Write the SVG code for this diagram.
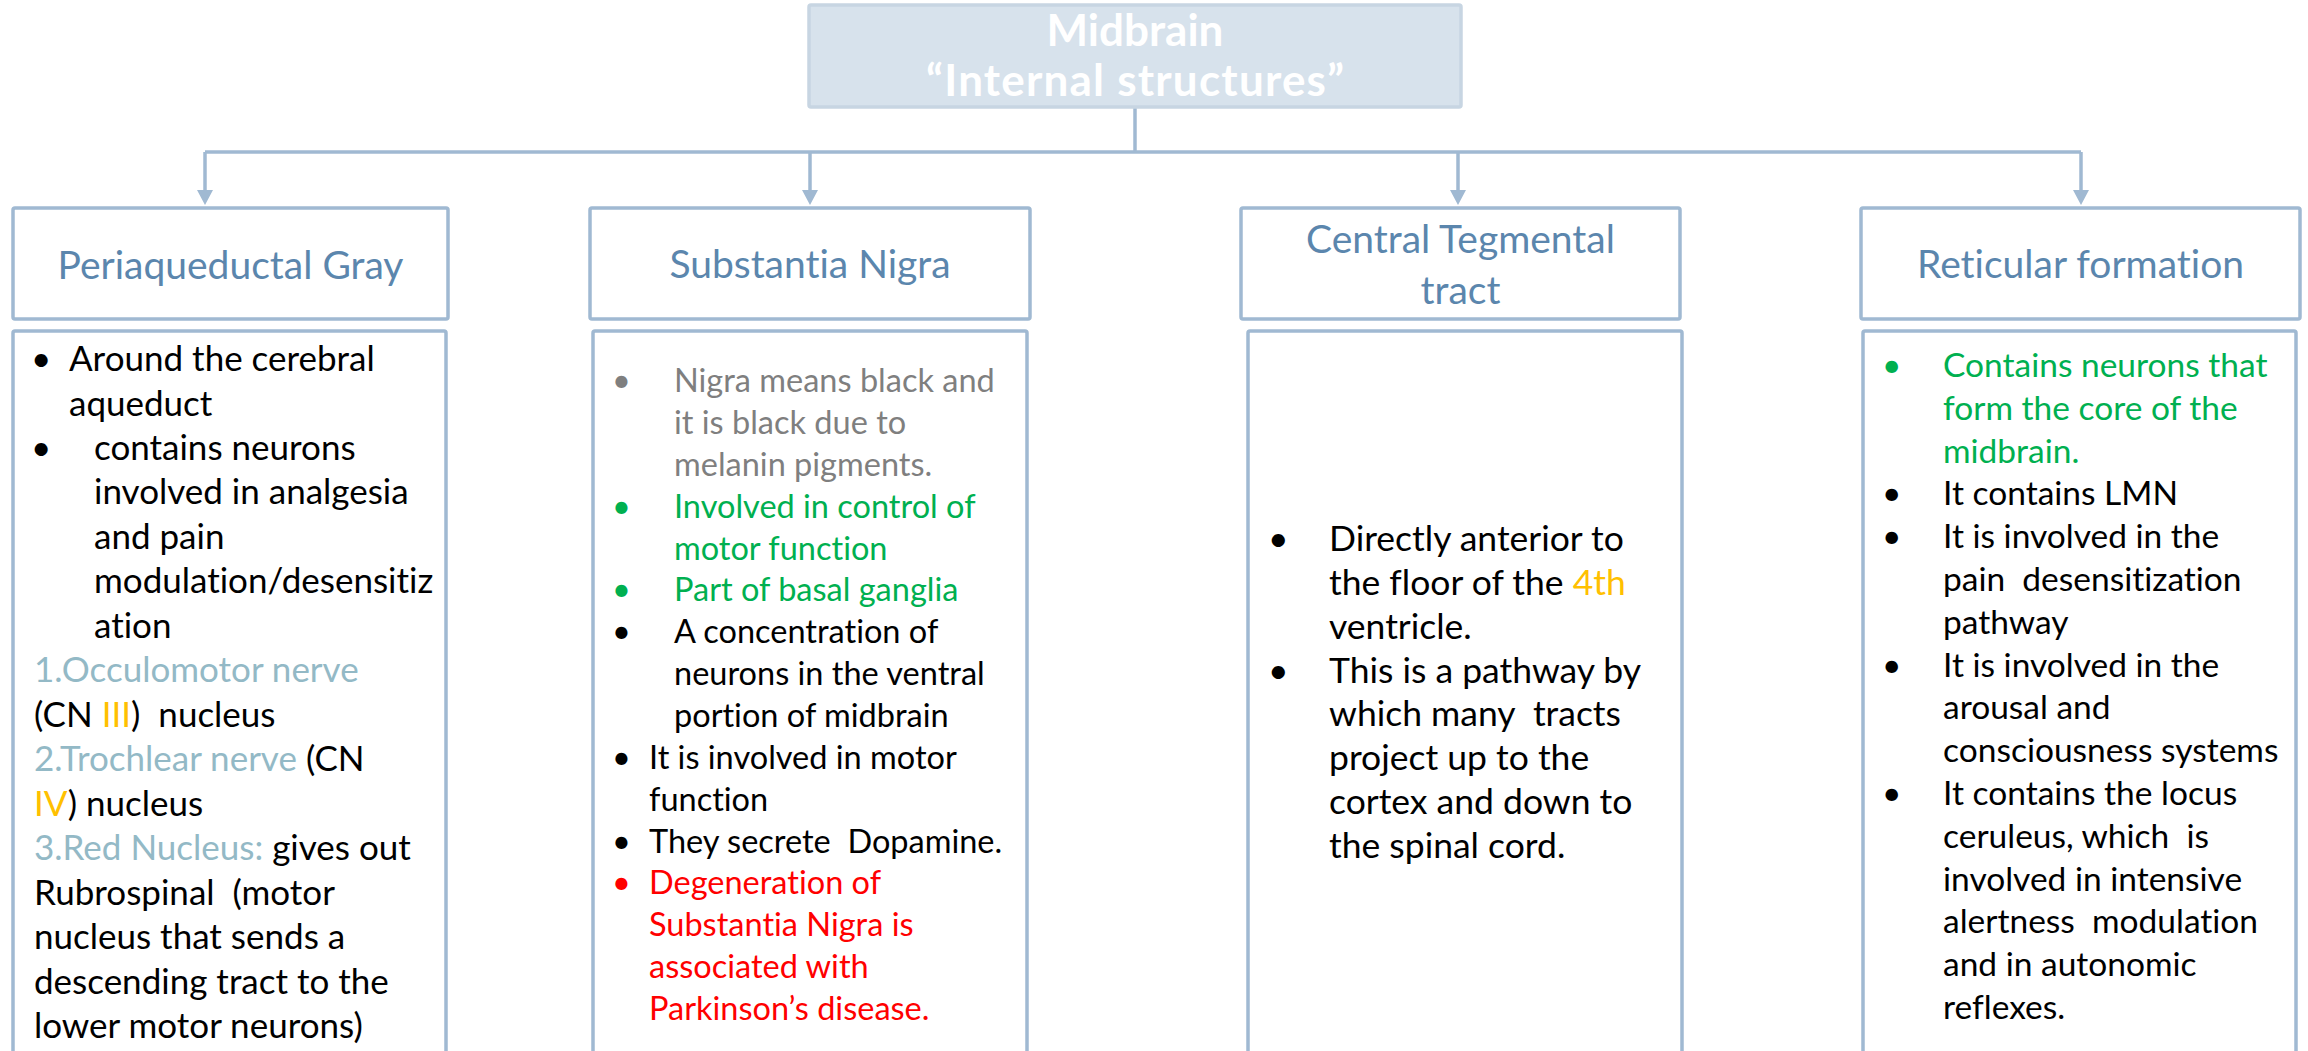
<svg xmlns="http://www.w3.org/2000/svg" width="2308" height="1051" viewBox="0 0 2308 1051">
  <style>
    text { font-variant-ligatures: none; font-feature-settings: "liga" 0, "clig" 0; }
    .box { fill: #ffffff; stroke: #a0b9d2; stroke-width: 3.5; }
    .root { fill: #d7e2ec; stroke: #c7d5e2; stroke-width: 3.5; }
    .root-text { font-family: Lato, "Liberation Sans", sans-serif; font-weight: bold; font-size: 44px; fill: #ffffff; text-anchor: middle; }
    .head { font-family: Lato, "Liberation Sans", sans-serif; font-size: 39px; fill: #5b86ad; text-anchor: middle; }
    .body { font-family: Lato, "Liberation Sans", sans-serif; fill: #000000; white-space: pre; }
    .b1 { font-size: 35px; }
    .b2 { font-size: 32.5px; }
    .b3 { font-size: 35.5px; }
    .b4 { font-size: 33.5px; }
    .gray { fill: #7f7f7f; }
    .green { fill: #00b050; }
    .red { fill: #ff0000; }
    .teal { fill: #93b9c6; }
    .gold { fill: #ffc000; }
    .link { fill: none; stroke: #a0b9d2; stroke-width: 3.5; }
  </style>
  <defs>
    <marker id="arrow" markerUnits="userSpaceOnUse" markerWidth="16" markerHeight="16" viewBox="0 0 16 16" refX="0" refY="8" orient="auto">
      <polygon points="0,0 15,8 0,16" fill="#a0b9d2"/>
    </marker>
  </defs>

  <rect width="2308" height="1051" fill="#ffffff"/>

  <!-- connectors -->
  <g id="connectors">
    <path class="link" d="M1135,107 V152"/>
    <path class="link" d="M205,152 H2081"/>
    <path class="link" d="M205,152 V190" marker-end="url(#arrow)"/>
    <path class="link" d="M810,152 V190" marker-end="url(#arrow)"/>
    <path class="link" d="M1458,152 V190" marker-end="url(#arrow)"/>
    <path class="link" d="M2081,152 V190" marker-end="url(#arrow)"/>
  </g>

  <!-- root -->
  <g id="midbrain">
    <rect class="root" x="809" y="5" width="652" height="102" rx="2"/>
    <text class="root-text" x="1135" y="46">Midbrain</text>
    <text class="root-text" x="1135" y="96" textLength="418" lengthAdjust="spacing">“Internal structures”</text>
  </g>

  <!-- Periaqueductal Gray -->
  <g id="periaqueductal-gray">
    <rect class="box" x="13" y="208" width="435" height="111" rx="2"/>
    <text class="head" x="230.5" y="279">Periaqueductal Gray</text>
  </g>
  <g id="periaqueductal-gray-notes">
    <rect class="box" x="13" y="331" width="433" height="740" rx="2"/>
    <text class="body b1">
      <tspan x="31" y="371">•</tspan><tspan x="69" y="371">Around the cerebral</tspan>
      <tspan x="69" y="415.5">aqueduct</tspan>
      <tspan x="31" y="460">•</tspan><tspan x="94" y="460">contains neurons</tspan>
      <tspan x="94" y="504.4">involved in analgesia</tspan>
      <tspan x="94" y="548.9">and pain</tspan>
      <tspan x="94" y="593.4">modulation/desensitiz</tspan>
      <tspan x="94" y="637.8">ation</tspan>
      <tspan x="34" y="682.3" class="teal">1.Occulomotor nerve</tspan>
      <tspan x="34" y="726.8">(CN </tspan><tspan class="gold">III</tspan><tspan>)  nucleus</tspan>
      <tspan x="34" y="771.2" class="teal">2.Trochlear nerve</tspan><tspan> (CN</tspan>
      <tspan x="34" y="815.7" class="gold">IV</tspan><tspan>) nucleus</tspan>
      <tspan x="34" y="860.2" class="teal">3.Red Nucleus:</tspan><tspan> gives out</tspan>
      <tspan x="34" y="904.6">Rubrospinal  (motor</tspan>
      <tspan x="34" y="949.1">nucleus that sends a</tspan>
      <tspan x="34" y="993.6">descending tract to the</tspan>
      <tspan x="34" y="1038">lower motor neurons)</tspan>
    </text>
  </g>

  <!-- Substantia Nigra -->
  <g id="substantia-nigra">
    <rect class="box" x="590" y="208" width="440" height="111" rx="2"/>
    <text class="head" x="810" y="278">Substantia Nigra</text>
  </g>
  <g id="substantia-nigra-notes">
    <rect class="box" x="593" y="331" width="434" height="740" rx="2"/>
    <text class="body b2">
      <tspan x="612" y="392" class="gray">•</tspan><tspan x="674" y="392" class="gray">Nigra means black and</tspan>
      <tspan x="674" y="433.9" class="gray">it is black due to</tspan>
      <tspan x="674" y="475.7" class="gray">melanin pigments.</tspan>
      <tspan x="612" y="517.6" class="green">•</tspan><tspan x="674" y="517.6" class="green">Involved in control of</tspan>
      <tspan x="674" y="559.5" class="green">motor function</tspan>
      <tspan x="612" y="601.3" class="green">•</tspan><tspan x="674" y="601.3" class="green">Part of basal ganglia</tspan>
      <tspan x="612" y="643.2">•</tspan><tspan x="674" y="643.2">A concentration of</tspan>
      <tspan x="674" y="685.1">neurons in the ventral</tspan>
      <tspan x="674" y="727">portion of midbrain</tspan>
      <tspan x="612" y="768.8">•</tspan><tspan x="649" y="768.8">It is involved in motor</tspan>
      <tspan x="649" y="810.7">function</tspan>
      <tspan x="612" y="852.6">•</tspan><tspan x="649" y="852.6">They secrete  Dopamine.</tspan>
      <tspan x="612" y="894.4" class="red">•</tspan><tspan x="649" y="894.4" class="red">Degeneration of</tspan>
      <tspan x="649" y="936.3" class="red">Substantia Nigra is</tspan>
      <tspan x="649" y="978.2" class="red">associated with</tspan>
      <tspan x="649" y="1020" class="red">Parkinson’s disease.</tspan>
    </text>
  </g>

  <!-- Central Tegmental tract -->
  <g id="central-tegmental-tract">
    <rect class="box" x="1241" y="208" width="439" height="111" rx="2"/>
    <text class="head" x="1460.5" y="253">Central Tegmental</text>
    <text class="head" x="1460.5" y="304">tract</text>
  </g>
  <g id="central-tegmental-tract-notes">
    <rect class="box" x="1248" y="331" width="434" height="740" rx="2"/>
    <text class="body b3">
      <tspan x="1268" y="551">•</tspan><tspan x="1329" y="551">Directly anterior to</tspan>
      <tspan x="1329" y="594.9">the floor of the </tspan><tspan class="gold">4th</tspan>
      <tspan x="1329" y="638.7">ventricle.</tspan>
      <tspan x="1268" y="682.6">•</tspan><tspan x="1329" y="682.6">This is a pathway by</tspan>
      <tspan x="1329" y="726.4">which many  tracts</tspan>
      <tspan x="1329" y="770.3">project up to the</tspan>
      <tspan x="1329" y="814.1">cortex and down to</tspan>
      <tspan x="1329" y="858">the spinal cord.</tspan>
    </text>
  </g>

  <!-- Reticular formation -->
  <g id="reticular-formation">
    <rect class="box" x="1861" y="208" width="439" height="111" rx="2"/>
    <text class="head" x="2080.5" y="278">Reticular formation</text>
  </g>
  <g id="reticular-formation-notes">
    <rect class="box" x="1863" y="331" width="433" height="740" rx="2"/>
    <text class="body b4">
      <tspan x="1882" y="377" class="green">•</tspan><tspan x="1943" y="377" class="green">Contains neurons that</tspan>
      <tspan x="1943" y="419.8" class="green">form the core of the</tspan>
      <tspan x="1943" y="462.6" class="green">midbrain.</tspan>
      <tspan x="1882" y="505.4">•</tspan><tspan x="1943" y="505.4">It contains LMN</tspan>
      <tspan x="1882" y="548.2">•</tspan><tspan x="1943" y="548.2">It is involved in the</tspan>
      <tspan x="1943" y="591">pain  desensitization</tspan>
      <tspan x="1943" y="633.8">pathway</tspan>
      <tspan x="1882" y="676.6">•</tspan><tspan x="1943" y="676.6">It is involved in the</tspan>
      <tspan x="1943" y="719.4">arousal and</tspan>
      <tspan x="1943" y="762.2">consciousness systems</tspan>
      <tspan x="1882" y="805">•</tspan><tspan x="1943" y="805">It contains the locus</tspan>
      <tspan x="1943" y="847.8">ceruleus, which  is</tspan>
      <tspan x="1943" y="890.6">involved in intensive</tspan>
      <tspan x="1943" y="933.4">alertness  modulation</tspan>
      <tspan x="1943" y="976.2">and in autonomic</tspan>
      <tspan x="1943" y="1019">reflexes.</tspan>
    </text>
  </g>
</svg>
